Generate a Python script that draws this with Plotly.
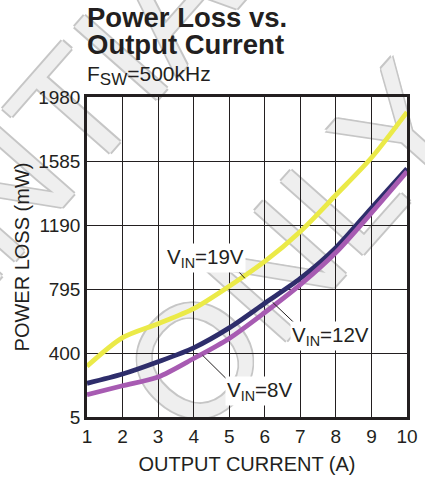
import plotly.graph_objects as go

# Output current (A)
current_a = [1, 2, 3, 4, 5, 6, 7, 8, 9, 10]

# Power loss (mW) at FSW = 500 kHz, per input voltage
loss_vin19 = [318, 495, 581, 674, 812, 965, 1150, 1375, 1605, 1887]
loss_vin12 = [213, 270, 346, 432, 555, 707, 860, 1050, 1295, 1538]
loss_vin8 = [143, 198, 252, 366, 490, 650, 822, 1020, 1265, 1520]

y_ticks = [5, 400, 795, 1190, 1585, 1980]
x_ticks = [1, 2, 3, 4, 5, 6, 7, 8, 9, 10]

INK = "#231f20"
FONT = "Liberation Sans, Arial, sans-serif"

series = [
    ("V<sub>IN</sub>=19V", loss_vin19, "#ebea48"),
    ("V<sub>IN</sub>=12V", loss_vin12, "#2e2d6b"),
    ("V<sub>IN</sub>=8V", loss_vin8, "#a75bb2"),
]

fig = go.Figure()
for name, vals, color in series:
    fig.add_trace(go.Scatter(
        x=current_a, y=vals, mode="lines", name=name,
        line=dict(color=color, width=4.8, shape="spline", smoothing=0.8),
        showlegend=False,
    ))

# curve labels: (text, label centre, leader start, leader end) in data units
curve_labels = [
    ("V<sub>IN</sub>=19V", (4.34, 985), (5.10, 941), (5.44, 861)),
    ("V<sub>IN</sub>=12V", (7.86, 503), (6.90, 571), (6.22, 713)),
    ("V<sub>IN</sub>=8V", (5.86, 164), (4.96, 232), (4.25, 386)),
]

annotations = []
shapes = []
for text, (cx, cy), (x0, y0), (x1, y1) in curve_labels:
    shapes.append(dict(type="line", xref="x", yref="y", x0=x0, y0=y0, x1=x1, y1=y1,
                       line=dict(color=INK, width=1), layer="above"))
    annotations.append(dict(x=cx, y=cy, xref="x", yref="y", text=text, showarrow=False,
                            font=dict(family=FONT, size=20.5, color=INK),
                            bgcolor="white", borderpad=1))

# titles
annotations += [
    dict(x=-0.006, y=1.249, xref="paper", yref="paper", xanchor="left", yanchor="middle",
         text="<b>Power Loss vs.</b>", showarrow=False,
         font=dict(family=FONT, size=27.5, color=INK)),
    dict(x=-0.006, y=1.164, xref="paper", yref="paper", xanchor="left", yanchor="middle",
         text="<b>Output Current</b>", showarrow=False,
         font=dict(family=FONT, size=27.5, color=INK)),
    dict(x=-0.006, y=1.067, xref="paper", yref="paper", xanchor="left", yanchor="middle",
         text='F<sub><span style="font-size:17px">SW</span></sub>=500kHz', showarrow=False,
         font=dict(family=FONT, size=21, color=INK)),
]

# background watermark lettering, drawn beneath the grid
watermark_font = dict(family=FONT, size=160, color="#efefef",
                      shadow="2px 0 0 #c6c6c6, -2px 0 0 #c6c6c6, 0 2px 0 #c6c6c6, 0 -2px 0 #c6c6c6")
watermark_rows = [
    ("ONLY", (0.413, 0.333), (0.813, 0.783)),
    ("CONFIDENTIAL", (-0.89, 0.065), (-0.494, 0.515)),
]
for text, (ax0, ay0), (ax1, ay1) in watermark_rows:
    shapes.append(dict(type="line", xref="paper", yref="paper",
                       x0=ax0, y0=ay0, x1=ax1, y1=ay1,
                       line=dict(color="rgba(0,0,0,0)", width=0), layer="below",
                       label=dict(text=text, font=watermark_font,
                                  textposition="middle", yanchor="middle")))

fig.update_layout(
    width=425, height=479,
    margin=dict(l=87, r=18, t=97, b=62),
    paper_bgcolor="white", plot_bgcolor="rgba(0,0,0,0)",
    font=dict(family=FONT, color=INK),
    annotations=annotations, shapes=shapes,
)
fig.update_xaxes(
    range=[1, 10], tickvals=x_ticks, ticks="", showgrid=True, automargin=False,
    gridcolor=INK, gridwidth=1.2, zeroline=False,
    showline=True, linecolor=INK, linewidth=2.5, mirror=True,
    tickfont=dict(family=FONT, size=19, color=INK),
    title=dict(text="OUTPUT CURRENT (A)", font=dict(family=FONT, size=20, color=INK), standoff=12),
)
fig.update_yaxes(
    range=[5, 1980], tickvals=y_ticks, ticks="", showgrid=True, automargin=False,
    gridcolor=INK, gridwidth=1.2, zeroline=False,
    showline=True, linecolor=INK, linewidth=2.5, mirror=True,
    tickfont=dict(family=FONT, size=19, color=INK),
    title=dict(text="POWER LOSS (mW)", font=dict(family=FONT, size=20, color=INK), standoff=4),
)

fig.write_html("out.html")
